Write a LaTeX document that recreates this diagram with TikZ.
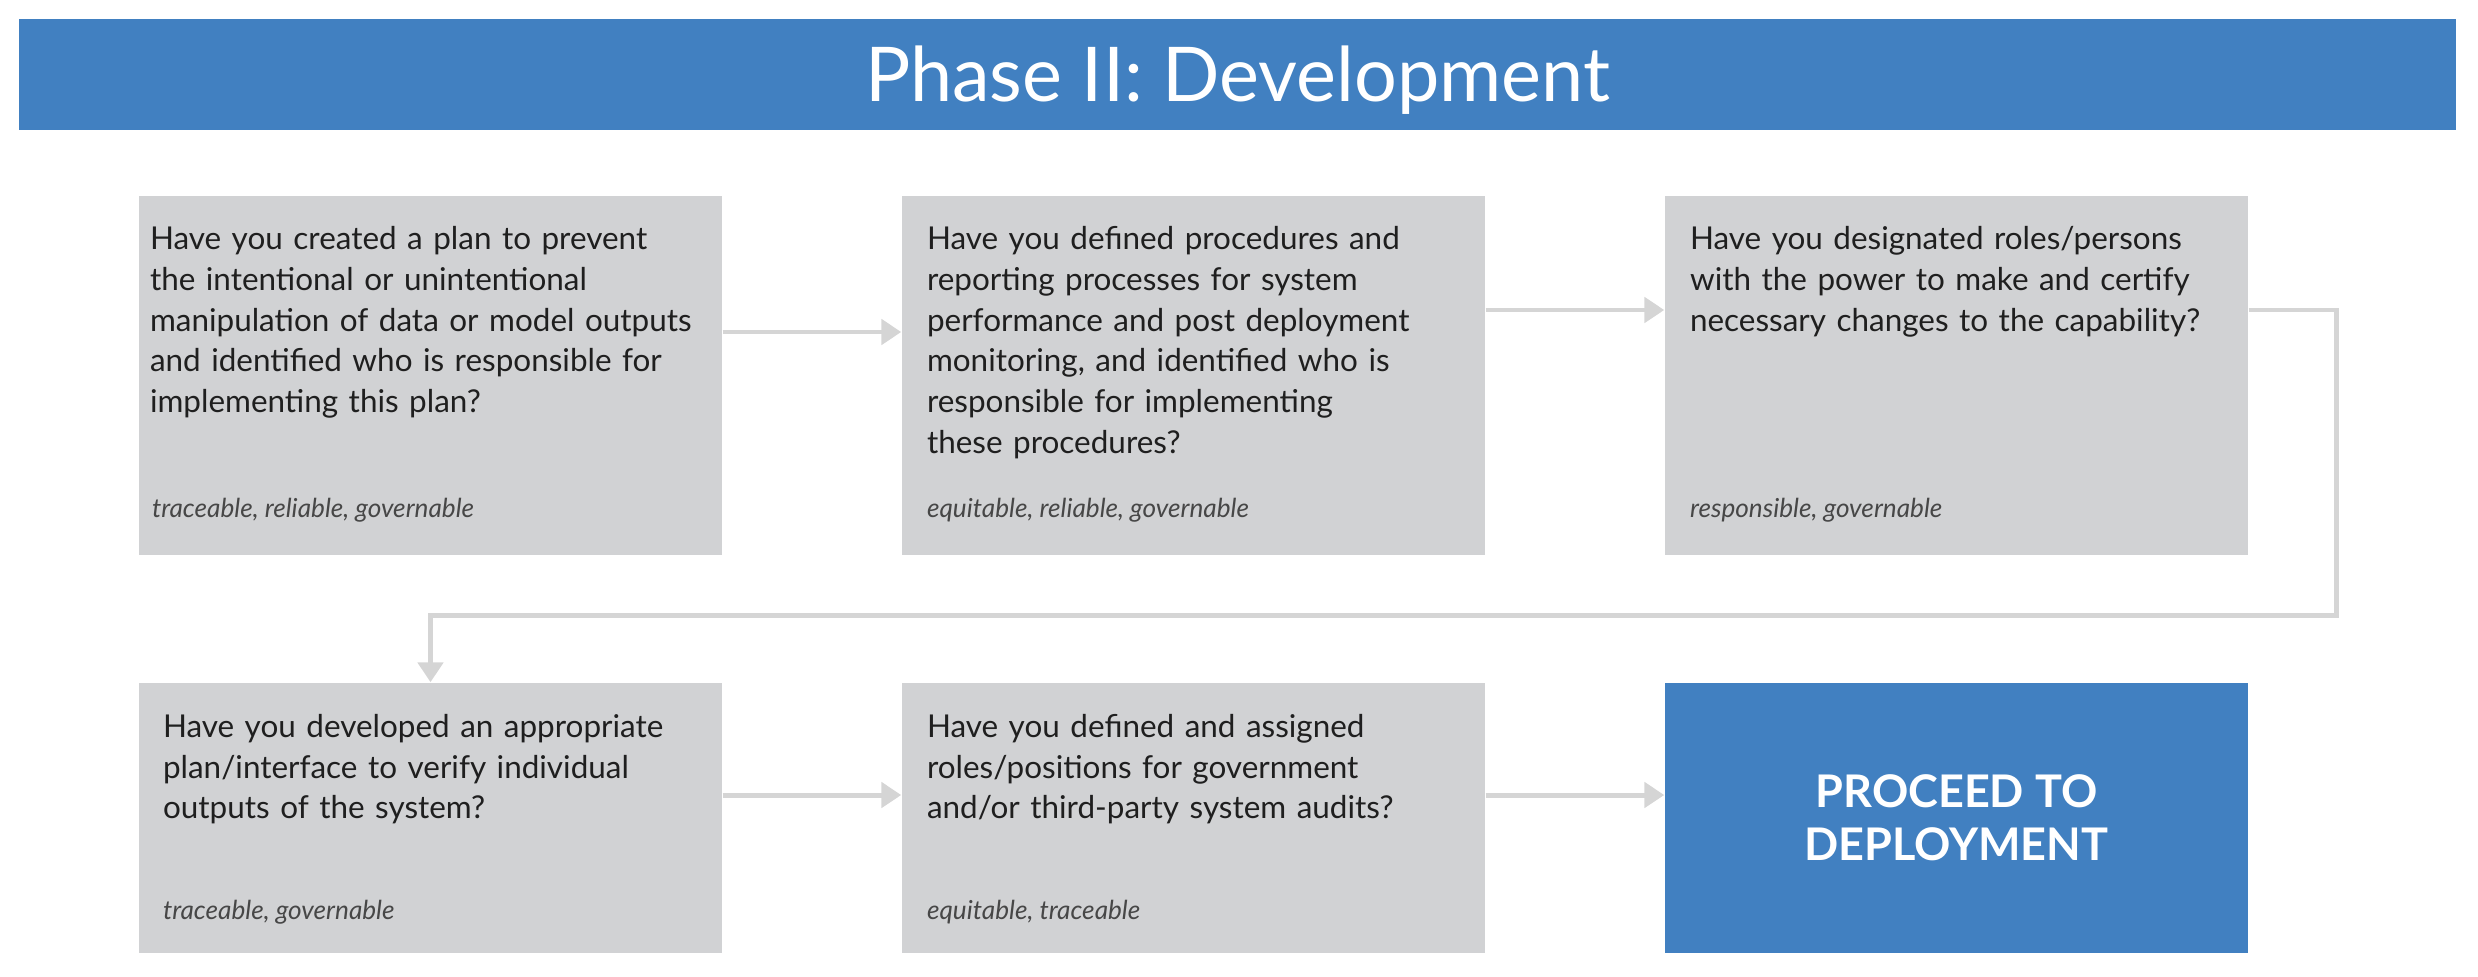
\documentclass[tikz,border=0pt]{standalone}
\usepackage{fontspec}
\setmainfont{Lato}
\usetikzlibrary{arrows.meta}

\definecolor{barblue}{HTML}{4180C1}
\definecolor{boxgray}{HTML}{D1D2D4}
\definecolor{linegray}{HTML}{D5D5D5}

\newcommand{\qfont}{\fontsize{8.95pt}{11.58pt}\selectfont}
\newcommand{\tagfont}{\fontsize{7.45pt}{9pt}\selectfont\itshape}
\newcommand{\titlefont}{\fontsize{21.5pt}{26pt}\selectfont}
\newcommand{\deployfont}{\fontsize{12.8pt}{15.1pt}\selectfont\bfseries}

\begin{document}
\begin{tikzpicture}[->,>={Triangle[length=0.2cm,width=0.25cm]},node distance=7.63cm]
\tikzstyle{qbox}=[rectangle, fill=boxgray, minimum width=5.83cm, inner sep=0pt]
\tikzstyle{rowone}=[qbox, minimum height=3.59cm]
\tikzstyle{rowtwo}=[qbox, minimum height=2.70cm]
\tikzstyle{qtext}=[text width=5.7cm, align=left, inner sep=0pt, anchor=base west, text=black!88, font=\qfont]
\tikzstyle{qtag}=[inner sep=0pt, anchor=base west, text=black!72, font=\tagfont]
\tikzstyle{flow}=[draw=linegray, line width=1.42pt]
\useasboundingbox (0,0) rectangle (24.78,-9.76);

% header
\node[fill=barblue, minimum width=24.37cm, minimum height=1.11cm, inner sep=0pt, text=white, font=\titlefont, text height=0.54cm, text depth=0pt] (title) at (12.375,-0.745) {Phase II: Development};

% question boxes
\node[rowone] (q1) at (4.305,-3.755) {};
\node[rowone, right of=q1] (q2) {};
\node[rowone, right of=q2] (q3) {};
\node[rowtwo, below of=q1, node distance=4.425cm] (q4) {};
\node[rowtwo, right of=q4] (q5) {};
\node[rowtwo, right of=q5, fill=barblue, text=white, font=\deployfont, align=center] (deploy) {PROCEED TO\\DEPLOYMENT};

% questions
\node[qtext] (t1) at ([shift={(0.11,-0.545)}]q1.north west) {Have you created a plan to prevent\\the intentional or unintentional\\manipulation of data or model outputs\\and identified who is responsible for\\implementing this plan?};
\node[qtext] (t2) at ([shift={(0.25,-0.545)}]q2.north west) {Have you defined procedures and\\reporting processes for system\\performance and post deployment\\monitoring, and identified who is\\responsible for implementing\\these procedures?};
\node[qtext] (t3) at ([shift={(0.25,-0.545)}]q3.north west) {Have you designated roles/persons\\with the power to make and certify\\necessary changes to the capability?};
\node[qtext] (t4) at ([shift={(0.24,-0.55)}]q4.north west) {Have you developed an appropriate\\plan/interface to verify individual\\outputs of the system?};
\node[qtext] (t5) at ([shift={(0.25,-0.55)}]q5.north west) {Have you defined and assigned\\roles/positions for government\\and/or third-party system audits?};

% principles
\node[qtag] (g1) at ([shift={(0.13,0.38)}]q1.south west) {traceable, reliable, governable};
\node[qtag] (g2) at ([shift={(0.25,0.38)}]q2.south west) {equitable, reliable, governable};
\node[qtag] (g3) at ([shift={(0.25,0.38)}]q3.south west) {responsible, governable};
\node[qtag] (g4) at ([shift={(0.24,0.34)}]q4.south west) {traceable, governable};
\node[qtag] (g5) at ([shift={(0.25,0.34)}]q5.south west) {equitable, traceable};

% flow
\coordinate (turn) at (23.36,-6.15);
\draw[flow] ([yshift=0.435cm]q1.east) -- ([yshift=0.435cm]q2.west);
\draw[flow] ([yshift=0.655cm]q2.east) -- ([yshift=0.655cm]q3.west);
\draw[flow] ([yshift=0.655cm]q3.east) -| (turn) -| (q4.north);
\draw[flow] ([yshift=0.23cm]q4.east) -- ([yshift=0.23cm]q5.west);
\draw[flow] ([yshift=0.23cm]q5.east) -- ([yshift=0.23cm]deploy.west);
\end{tikzpicture}
\end{document}
